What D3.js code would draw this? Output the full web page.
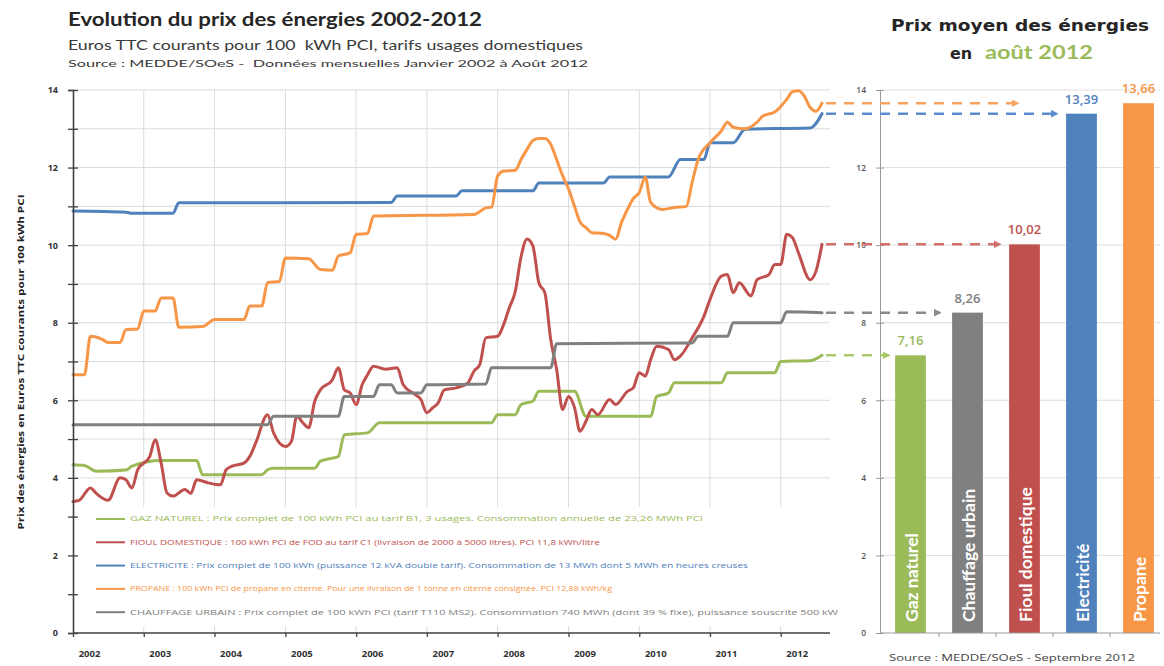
<!DOCTYPE html>
<html><head><meta charset="utf-8">
<script src="https://cdn.jsdelivr.net/npm/d3@7"></script>
<style>body{margin:0;background:#fff}svg{display:block}text{white-space:pre}</style>
</head><body>
<svg id="chart" width="1164" height="666"></svg>
<script>
// ---------------- DATA ----------------
const gazDates = ["2002-01","2002-03","2002-05","2002-10","2002-11","2003-04","2003-10","2003-11","2004-09","2004-10","2004-11","2005-06","2005-07","2005-09","2005-10","2005-11","2006-03","2006-05","2007-12","2008-01","2008-04","2008-05","2008-07","2008-08","2009-02","2009-04","2010-03","2010-04","2010-06","2010-07","2011-03","2011-04","2011-12","2012-01","2012-06","2012-08"];
const gazValues = [4.34,4.32,4.17,4.20,4.30,4.45,4.45,4.08,4.08,4.21,4.25,4.25,4.43,4.51,4.55,5.11,5.16,5.42,5.42,5.63,5.63,5.89,5.98,6.23,6.23,5.59,5.59,6.10,6.19,6.45,6.45,6.71,6.71,7.00,7.02,7.16];

const fioulDates = ["2002-01","2002-02","2002-04","2002-05","2002-07","2002-09","2002-10","2002-11","2002-12","2003-02","2003-03","2003-04","2003-05","2003-06","2003-08","2003-09","2003-10","2003-12","2004-02","2004-03","2004-04","2004-06","2004-07","2004-08","2004-10","2004-11","2005-01","2005-02","2005-03","2005-04","2005-05","2005-06","2005-07","2005-09","2005-10","2005-11","2005-12","2006-01","2006-02","2006-03","2006-04","2006-06","2006-08","2006-09","2006-11","2006-12","2007-01","2007-02","2007-03","2007-04","2007-06","2007-08","2007-09","2007-10","2007-11","2008-01","2008-02","2008-03","2008-04","2008-05","2008-06","2008-07","2008-08","2008-09","2008-10","2008-11","2008-12","2009-01","2009-02","2009-03","2009-04","2009-05","2009-06","2009-08","2009-09","2009-11","2009-12","2010-01","2010-02","2010-03","2010-04","2010-06","2010-07","2010-08","2010-10","2010-12","2011-01","2011-03","2011-04","2011-05","2011-06","2011-08","2011-09","2011-11","2011-12","2012-01","2012-02","2012-03","2012-04","2012-06","2012-07","2012-08"];
const fioulValues = [3.39,3.42,3.74,3.60,3.42,4.00,3.95,3.74,4.21,4.55,4.98,4.38,3.61,3.53,3.70,3.60,3.95,3.87,3.82,4.21,4.30,4.38,4.55,4.90,5.63,5.16,4.81,4.94,5.59,5.42,5.29,5.97,6.27,6.53,6.84,6.27,6.19,5.89,6.40,6.66,6.88,6.80,6.84,6.40,6.15,6.02,5.68,5.81,5.94,6.27,6.32,6.45,6.75,6.92,7.61,7.65,7.95,8.38,8.80,9.70,10.16,9.98,9.03,8.77,7.57,6.79,5.76,6.10,5.81,5.20,5.46,5.76,5.63,6.02,5.89,6.23,6.32,6.71,6.62,7.05,7.39,7.31,7.05,7.14,7.61,8.17,8.60,9.20,9.24,8.77,9.03,8.69,9.11,9.24,9.50,9.50,10.28,10.20,9.81,9.11,9.33,10.02];

const elecDates = ["2002-01","2002-10","2002-11","2003-06","2003-07","2006-07","2006-08","2007-06","2007-07","2008-07","2008-08","2009-07","2009-08","2010-06","2010-08","2010-12","2011-01","2011-05","2011-07","2012-06","2012-08"];
const elecValues = [10.88,10.85,10.82,10.82,11.09,11.10,11.27,11.27,11.40,11.40,11.60,11.60,11.76,11.76,12.21,12.21,12.64,12.64,12.99,13.02,13.39];

const propaneDates = ["2002-01","2002-03","2002-04","2002-06","2002-07","2002-09","2002-10","2002-12","2003-01","2003-03","2003-04","2003-06","2003-07","2003-11","2004-01","2004-06","2004-07","2004-09","2004-10","2004-12","2005-01","2005-05","2005-07","2005-09","2005-10","2005-12","2006-01","2006-03","2006-04","2007-09","2007-11","2007-12","2008-01","2008-02","2008-04","2008-05","2008-06","2008-07","2008-08","2008-09","2008-10","2008-11","2008-12","2009-01","2009-02","2009-03","2009-04","2009-05","2009-07","2009-08","2009-09","2009-10","2009-11","2009-12","2010-01","2010-02","2010-03","2010-05","2010-07","2010-09","2010-10","2010-11","2011-01","2011-03","2011-04","2011-05","2011-07","2011-09","2011-10","2011-12","2012-02","2012-03","2012-04","2012-05","2012-06","2012-07","2012-08"];
const propaneValues = [6.66,6.66,7.65,7.57,7.49,7.49,7.82,7.84,8.30,8.30,8.64,8.64,7.88,7.90,8.08,8.08,8.43,8.43,9.04,9.06,9.67,9.65,9.37,9.35,9.72,9.80,10.28,10.30,10.75,10.79,10.96,10.98,11.78,11.91,11.93,12.21,12.47,12.70,12.75,12.75,12.60,12.20,11.80,11.45,11.00,10.60,10.45,10.32,10.30,10.25,10.15,10.58,10.92,11.20,11.36,11.75,11.10,10.92,10.97,11.00,11.62,12.21,12.64,12.95,13.17,13.04,13.00,13.17,13.33,13.43,13.76,13.95,13.98,13.85,13.55,13.45,13.66];

const chauffageDates = ["2002-01","2004-10","2004-11","2005-10","2005-11","2006-04","2006-05","2006-07","2006-08","2006-12","2007-01","2007-11","2007-12","2008-10","2008-11","2010-10","2010-11","2011-04","2011-05","2012-01","2012-02","2012-08"];
const chauffageValues = [5.37,5.37,5.59,5.59,6.10,6.10,6.40,6.40,6.19,6.19,6.40,6.42,6.84,6.84,7.46,7.48,7.65,7.65,8.00,8.00,8.28,8.26];

const seriesKeys = ["gaz","fioul","elec","propane","chauffage"];
const legendTexts = [
  "GAZ NATUREL : Prix complet de 100 kWh PCI au tarif B1, 3 usages. Consommation annuelle de 23,26 MWh PCI",
  "FIOUL DOMESTIQUE : 100 kWh PCI de FOD au tarif C1 (livraison de 2000 à 5000 litres). PCI 11,8 kWh/litre",
  "ELECTRICITE : Prix complet de 100 kWh (puissance 12 kVA double tarif). Consommation de 13 MWh dont 5 MWh en heures creuses",
  "PROPANE : 100 kWh PCI de propane en citerne. Pour une livraison de 1 tonne en citerne consignée. PCI 12,88 kWh/kg",
  "CHAUFFAGE URBAIN : Prix complet de 100 kWh PCI (tarif T110 MS2). Consommation 740 MWh (dont 39 % fixe), puissance souscrite 500 kW"
];
const years = [2002,2003,2004,2005,2006,2007,2008,2009,2010,2011,2012];
const yTickValues = [0,1,2,3,4,5,6,7,8,9,10,11,12,13,14];

const barCategories = ["Gaz naturel","Chauffage urbain","Fioul domestique","Electricité","Propane"];
const barKeys = ["gaz","chauffage","fioul","elec","propane"];
const barValues = [7.16, 8.26, 10.02, 13.39, 13.66];
const barValueLabels = ["7,16","8,26","10,02","13,39","13,66"];

// ---------------- STYLE ----------------
const colors = {gaz:"#9bbb59", fioul:"#c0504d", elec:"#4f81bd", propane:"#f79646", chauffage:"#808080"};
const arrowColors = {gaz:"#a9c96b", fioul:"#d0706c", elec:"#5a8dcb", propane:"#f8a460", chauffage:"#8a8a8a"};
const arrowEnd = {gaz:889, chauffage:940, fioul:1000, elec:1057, propane:1018};

const svg = d3.select("#chart");
const parse = d3.timeParse("%Y-%m");
const x = d3.scaleTime().domain([parse("2002-01"), parse("2012-08")]).range([73, 822]);
const y = d3.scaleLinear().domain([0,14]).range([633, 90]);

const seriesData = {
  gaz: gazDates.map((d,i)=>({date:parse(d), v:gazValues[i]})),
  fioul: fioulDates.map((d,i)=>({date:parse(d), v:fioulValues[i]})),
  elec: elecDates.map((d,i)=>({date:parse(d), v:elecValues[i]})),
  propane: propaneDates.map((d,i)=>({date:parse(d), v:propaneValues[i]})),
  chauffage: chauffageDates.map((d,i)=>({date:parse(d), v:chauffageValues[i]}))
};

// ---------- Titles ----------
svg.append("text").attr("x",68).attr("y",26)
  .attr("font-family","Lato, 'Open Sans', sans-serif").attr("font-weight",700).attr("font-size",19.5)
  .attr("fill","#262626").attr("textLength",414).attr("lengthAdjust","spacingAndGlyphs")
  .text("Evolution du prix des énergies 2002-2012");
svg.append("text").attr("x",68).attr("y",50)
  .attr("font-family","Lato, 'Open Sans', sans-serif").attr("font-size",13.5)
  .attr("fill","#3a3a3a").attr("textLength",515).attr("lengthAdjust","spacingAndGlyphs")
  .text("Euros TTC courants pour 100  kWh PCI, tarifs usages domestiques");
svg.append("text").attr("x",68).attr("y",67)
  .attr("font-family","Lato, 'Open Sans', sans-serif").attr("font-size",10)
  .attr("fill","#3a3a3a").attr("textLength",520).attr("lengthAdjust","spacingAndGlyphs")
  .text("Source : MEDDE/SOeS -  Données mensuelles Janvier 2002 à Août 2012");

// ---------- Main chart grid ----------
const g = svg.append("g");
g.selectAll(".hg").data(yTickValues.filter(v=>v>0)).join("line")
  .attr("x1",73).attr("x2",830).attr("y1",d=>y(d)).attr("y2",d=>y(d))
  .attr("stroke","#dcdcdc").attr("stroke-width",1);
g.selectAll(".vg").data(years.slice(1)).join("line")
  .attr("x1",d=>x(parse(d+"-01"))).attr("x2",d=>x(parse(d+"-01")))
  .attr("y1",90).attr("y2",633).attr("stroke","#dcdcdc").attr("stroke-width",1);

// ---------- Lines ----------
const line = d3.line().x(d=>x(d.date)).y(d=>y(d.v)).curve(d3.curveMonotoneX);
seriesKeys.forEach(k=>{
  g.append("path").datum(seriesData[k]).attr("d",line)
    .attr("fill","none").attr("stroke",colors[k]).attr("stroke-width",3)
    .attr("stroke-linejoin","round").attr("stroke-linecap","round");
});

// ---------- Legend box ----------
const lg = svg.append("g");
lg.append("rect").attr("x",76).attr("y",507).attr("width",770).attr("height",119).attr("fill","#fff");
const legendWidths = [573, 470, 618, 482, 708];
seriesKeys.forEach((k,i)=>{
  const ly = 519 + i*23.3;
  lg.append("line").attr("x1",96).attr("x2",125).attr("y1",ly).attr("y2",ly)
    .attr("stroke",colors[k]).attr("stroke-width",2);
  lg.append("text").attr("x",130).attr("y",ly+2.3)
    .attr("font-family","'Open Sans', sans-serif").attr("font-size",6.5)
    .attr("fill",colors[k]).attr("textLength",legendWidths[i]).attr("lengthAdjust","spacingAndGlyphs")
    .text(legendTexts[i]);
});

// ---------- Main axes ----------
const yAxis = d3.axisLeft(y).tickValues(yTickValues).tickSize(5)
  .tickFormat(d=> d%2===0 ? d : "");
const ya = svg.append("g").attr("transform","translate(73,0)").call(yAxis);
ya.select(".domain").attr("stroke","#404040").attr("stroke-width",1.6);
ya.selectAll(".tick line").attr("x1",5).attr("x2",-5).attr("stroke","#404040").attr("stroke-width",1.3);
ya.selectAll(".tick text").attr("x",-15).attr("font-family","'Open Sans', sans-serif")
  .attr("font-weight",700).attr("font-size",9).attr("fill","#333");

const xAxis = d3.axisBottom(x).tickValues(years.map(d=>parse(d+"-01"))).tickSize(4)
  .tickFormat(d3.timeFormat("%Y"));
const xa = svg.append("g").attr("transform","translate(0,633)").call(xAxis);
xa.select(".domain").remove();
xa.append("line").attr("x1",73).attr("x2",830).attr("y1",0).attr("y2",0)
  .attr("stroke","#404040").attr("stroke-width",1.6);
xa.selectAll(".tick line").attr("stroke","#404040").attr("stroke-width",1.3);
xa.selectAll(".tick text").attr("dx",16).attr("y",17).attr("font-family","'Open Sans', sans-serif")
  .attr("font-weight",700).attr("font-size",9.5).attr("fill","#333");

svg.append("text").attr("transform","translate(24,362) rotate(-90)")
  .attr("text-anchor","middle").attr("font-family","'Open Sans', sans-serif")
  .attr("font-weight",700).attr("font-size",8).attr("fill","#222")
  .attr("textLength",335).attr("lengthAdjust","spacingAndGlyphs")
  .text("Prix des énergies en Euros TTC courants pour 100 kWh PCI");

// ---------- Right chart ----------
const xb = d3.scaleBand().domain(barCategories).range([882,1167]).paddingInner(0.46).paddingOuter(0.23);
const rg = svg.append("g");
rg.selectAll(".rgl").data([2,4,6,8,10,12,14]).join("line")
  .attr("x1",880).attr("x2",1160).attr("y1",d=>y(d)).attr("y2",d=>y(d))
  .attr("stroke","#dedede").attr("stroke-width",1);

const yAxisR = d3.axisLeft(y).tickValues([0,2,4,6,8,10,12,14]).tickSize(4);
const yr = svg.append("g").attr("transform","translate(880,0)").call(yAxisR);
yr.select(".domain").attr("stroke","#9a9a9a").attr("stroke-width",1);
yr.selectAll(".tick line").attr("x1",4).attr("x2",-4).attr("stroke","#9a9a9a");
yr.selectAll(".tick text").attr("x",-14).attr("font-family","'Open Sans', sans-serif")
  .attr("font-weight",600).attr("font-size",8.5).attr("fill","#555");

svg.append("line").attr("x1",880).attr("x2",1160).attr("y1",633).attr("y2",633)
  .attr("stroke","#9a9a9a").attr("stroke-width",1);
const gapHalf = (xb.step()-xb.bandwidth())/2;
svg.selectAll(".bt").data(barCategories.slice(1)).join("line")
  .attr("x1",d=>xb(d)-gapHalf).attr("x2",d=>xb(d)-gapHalf).attr("y1",633).attr("y2",637)
  .attr("stroke","#9a9a9a");

rg.selectAll(".bar").data(barCategories).join("rect")
  .attr("x",d=>xb(d)).attr("width",xb.bandwidth())
  .attr("y",(d,i)=>y(barValues[i])).attr("height",(d,i)=>y(0)-y(barValues[i]))
  .attr("fill",(d,i)=>colors[barKeys[i]]);

rg.selectAll(".bl").data(barCategories).join("text")
  .attr("transform",d=>`translate(${xb(d)+xb.bandwidth()/2+1},622) rotate(-90)`)
  .attr("dominant-baseline","central")
  .attr("font-family","Lato, 'Open Sans', sans-serif").attr("font-weight",700).attr("font-size",17.5)
  .attr("fill","#fff").text(d=>d);

rg.selectAll(".bv").data(barCategories).join("text")
  .attr("x",d=>xb(d)+xb.bandwidth()/2).attr("y",(d,i)=>y(barValues[i])-10)
  .attr("text-anchor","middle").attr("font-family","'Open Sans', sans-serif")
  .attr("font-weight",600).attr("font-size",13)
  .attr("fill",(d,i)=>colors[barKeys[i]]).text((d,i)=>barValueLabels[i]);

// Dashed arrows
const defs = svg.append("defs");
barKeys.forEach((k,i)=>{
  defs.append("marker").attr("id","ah-"+k).attr("viewBox","0 0 10 10").attr("refX",8).attr("refY",5)
    .attr("markerWidth",8).attr("markerHeight",8).attr("markerUnits","userSpaceOnUse").attr("orient","auto")
    .append("path").attr("d","M0,0L10,5L0,10Z").attr("fill",arrowColors[k]);
  svg.append("line").attr("x1",826).attr("x2",arrowEnd[k])
    .attr("y1",y(barValues[i])).attr("y2",y(barValues[i]))
    .attr("stroke",arrowColors[k]).attr("stroke-width",2.5).attr("stroke-dasharray","10,8")
    .attr("marker-end",`url(#ah-${k})`);
});

// Right titles
svg.append("text").attr("x",1020).attr("y",31).attr("text-anchor","middle")
  .attr("font-family","'DejaVu Sans', sans-serif").attr("font-weight",700).attr("font-size",15)
  .attr("fill","#262626").attr("textLength",258).attr("lengthAdjust","spacingAndGlyphs")
  .text("Prix moyen des énergies");
svg.append("text").attr("x",950).attr("y",59)
  .attr("font-family","'DejaVu Sans', sans-serif").attr("font-weight",700).attr("font-size",16)
  .attr("fill","#262626").text("en");
svg.append("text").attr("x",985).attr("y",59)
  .attr("font-family","Lato, 'Open Sans', sans-serif").attr("font-weight",700).attr("font-size",19)
  .attr("fill","#9bbb59").attr("textLength",108).attr("lengthAdjust","spacingAndGlyphs")
  .text("août 2012");

svg.append("text").attr("x",1012).attr("y",661).attr("text-anchor","middle")
  .attr("font-family","'Open Sans', sans-serif").attr("font-size",8.5).attr("fill","#444")
  .attr("textLength",246).attr("lengthAdjust","spacingAndGlyphs")
  .text("Source : MEDDE/SOeS - Septembre 2012");
</script>
</body></html>
